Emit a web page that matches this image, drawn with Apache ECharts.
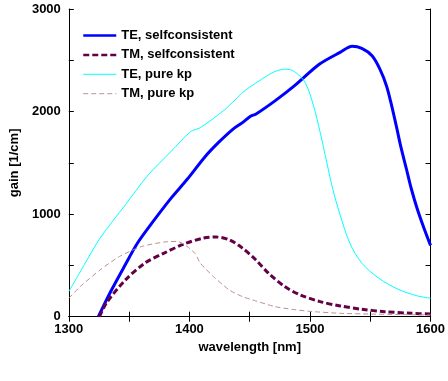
<!DOCTYPE html>
<html><head><meta charset="utf-8">
<script src="https://cdn.jsdelivr.net/npm/echarts@6/dist/echarts.min.js"></script>
<style>html,body{margin:0;padding:0;background:#fff}#c{width:448px;height:381px}</style>
</head><body><div id="c"></div>
<script>
const seriesNames = ['TE, selfconsistent', 'TM, selfconsistent', 'TE, pure kp', 'TM, pure kp'];
const xTicks = [1300, 1400, 1500, 1600];
const yTicks = [0, 1000, 2000, 3000];

const wlTeSelf = [1324.5,1334,1346,1357,1369,1385,1398,1413,1424,1436,1444,1451,1455,1471,1487,1508,1525,1535,1543,1551.5,1558,1563.5,1567.5,1571.5,1575.5,1580,1584,1589,1594.5,1600];
const gainTeSelf = [0,229,489,718,914,1158,1337,1560,1697,1827,1892,1957,1974,2104,2250,2463,2577,2636,2616,2544,2414,2250,2070,1865,1650,1440,1250,1050,865,695];

const wlTmSelf = [1325.5,1331,1347,1363,1379,1396,1412,1422,1433,1444,1455,1465.5,1479,1492,1508.5,1525,1543,1562,1584,1600];
const gainTmSelf = [0,131,359,522,620,711,767,777,750,669,555,425,294,212,147,105,72,49,33,26];

const wlTeKp = [1300,1313,1326,1347,1365,1385,1401,1409,1428,1438.5,1444,1460,1471,1480,1487,1496,1503,1508.5,1514,1519,1524.5,1533,1543,1557,1573,1589,1600];
const gainTeKp = [245,510,767,1093,1370,1614,1804,1843,2006,2120,2186,2316,2391,2414,2391,2284,2055,1795,1501,1240,1012,718,522,376,268,203,180];

const wlTmKp = [1300,1309.5,1326,1342,1360.5,1379,1390,1398,1405,1409,1420,1433,1444,1455,1471,1485,1500,1525,1549,1575,1600];
const gainTmKp = [180,294,457,587,685,728,734,686,613,522,391,261,196,154,98,72,52,33,26,21,17];

const zip = (a, b) => a.map((v, i) => [v, b[i]]);
const FONT = "'Liberation Sans', Arial, sans-serif";
const colors = ['#0000ff', '#640046', '#00ffff', '#bc8f8f'];

const chart = echarts.init(document.getElementById('c'), null, {renderer: 'canvas'});
const baseAxisLine = {show: true, lineStyle: {color: '#000', width: 1}};
const tick = {show: true, inside: true, length: 5, lineStyle: {color: '#000', width: 1}};
const lbl = {color: '#000', fontFamily: FONT, fontWeight: 'bold', fontSize: 13};
const hidden = {opacity: 0};

chart.setOption({
  animation: false,
  backgroundColor: '#fff',
  grid: {left: 61, right: 14.5, top: 9, bottom: 64.3, containLabel: false},
  legend: {
    orient: 'vertical', left: 82, top: 29, padding: 0,
    itemWidth: 33, itemHeight: 10, itemGap: 6.4,
    textStyle: {color: '#000', fontFamily: FONT, fontWeight: 'bold', fontSize: 13},
    data: [
      {name: seriesNames[0], lineStyle: {width: 2.5}, itemStyle: hidden},
      {name: seriesNames[1], lineStyle: {width: 2.5}, itemStyle: hidden},
      {name: seriesNames[2], lineStyle: {width: 1}, itemStyle: hidden},
      {name: seriesNames[3], lineStyle: {width: 1}, itemStyle: hidden}
    ]
  },
  xAxis: [{
    type: 'value', min: 1300, max: 1600, interval: 50, position: 'bottom',
    name: 'wavelength [nm]', nameLocation: 'middle', nameGap: 21,
    nameTextStyle: lbl,
    axisLine: baseAxisLine, axisTick: tick, splitLine: {show: false},
    axisLabel: Object.assign({margin: 6, formatter: v => xTicks.includes(v) ? String(v) : ''}, lbl)
  }, {
    type: 'value', min: 1300, max: 1600, interval: 50, position: 'top',
    axisLine: baseAxisLine, axisTick: tick, splitLine: {show: false}, axisLabel: {show: false}
  }],
  yAxis: [{
    type: 'value', min: 0, max: 3000, interval: 500, position: 'left',
    name: 'gain [1/cm]', nameLocation: 'middle', nameGap: 47, nameRotate: 90,
    nameTextStyle: lbl,
    axisLine: baseAxisLine, axisTick: tick, splitLine: {show: false},
    axisLabel: Object.assign({margin: 8, formatter: v => yTicks.includes(v) ? String(v) : ''}, lbl)
  }, {
    type: 'value', min: 0, max: 3000, interval: 500, position: 'right',
    axisLine: baseAxisLine, axisTick: tick, splitLine: {show: false}, axisLabel: {show: false}
  }],
  series: [
    {name: seriesNames[0], type: 'line', data: zip(wlTeSelf, gainTeSelf), symbol: 'none', smooth: 0.3,
     lineStyle: {color: colors[0], width: 3}, itemStyle: {color: colors[0]}},
    {name: seriesNames[1], type: 'line', data: zip(wlTmSelf, gainTmSelf), symbol: 'none', smooth: 0.3,
     lineStyle: {color: colors[1], width: 3, type: [6, 3]}, itemStyle: {color: colors[1]}},
    {name: seriesNames[2], type: 'line', data: zip(wlTeKp, gainTeKp), symbol: 'none', smooth: 0.3,
     lineStyle: {color: colors[2], width: 1}, itemStyle: {color: colors[2]}},
    {name: seriesNames[3], type: 'line', data: zip(wlTmKp, gainTmKp), symbol: 'none', smooth: 0.2,
     lineStyle: {color: colors[3], width: 1, type: [5, 3]}, itemStyle: {color: colors[3]}}
  ]
});
</script></body></html>
